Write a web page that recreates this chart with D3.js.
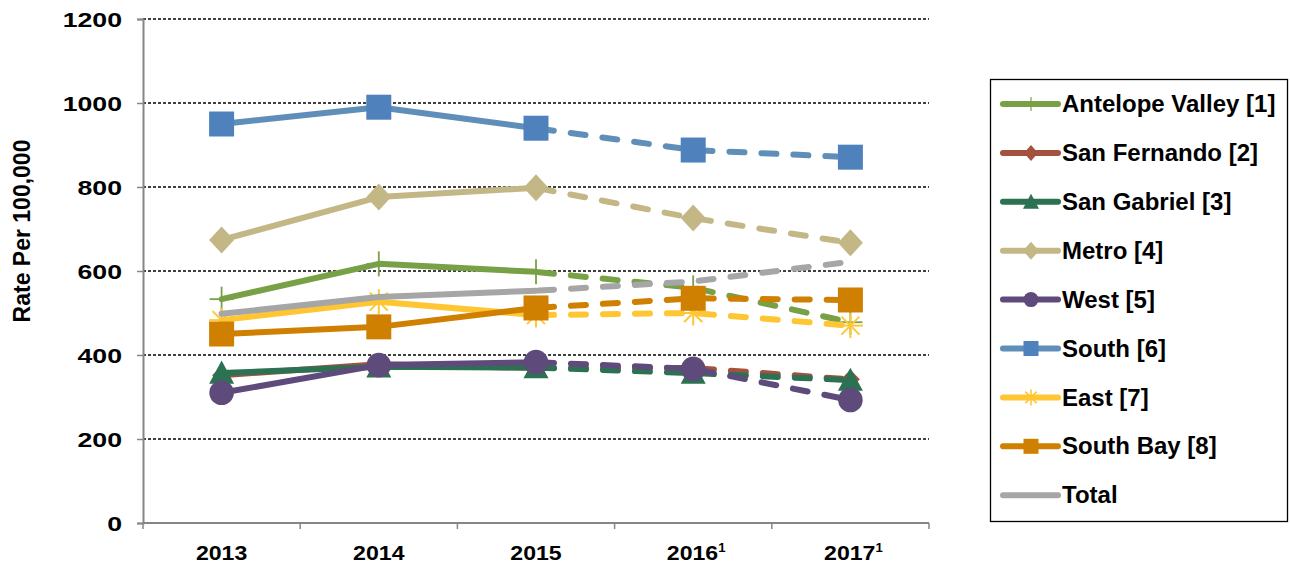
<!DOCTYPE html>
<html>
<head>
<meta charset="utf-8">
<script src="https://cdn.jsdelivr.net/npm/d3@7"></script>
<style>
  html, body { margin: 0; padding: 0; background: #fff; }
  svg { display: block; font-family: "Liberation Sans", Arial, sans-serif; }
</style>
</head>
<body>
<svg id="chart" width="1290" height="567"></svg>
<script>
// Rates per 100,000 by service planning area, 2013-2017
const years = ["2013", "2014", "2015", "2016", "2017"];
const yearSup = ["", "", "", "1", "1"];
const yTicks = [0, 200, 400, 600, 800, 1000, 1200];

const antelopeValley = [533, 617, 598, 560, 478];
const sanFernando   = [352, 378, 369, 369, 342];
const sanGabriel    = [357, 372, 370, 357, 340];
const metro         = [674, 776, 798, 726, 667];
const west          = [310, 376, 383, 367, 293];
const south         = [950, 990, 940, 888, 871];
const east          = [483, 527, 495, 500, 470];
const southBay      = [450, 467, 512, 535, 531];
const total         = [498, 538, 553, 575, 622];

const seriesNames = ["Antelope Valley [1]", "San Fernando [2]", "San Gabriel [3]", "Metro [4]",
                     "West [5]", "South [6]", "East [7]", "South Bay [8]", "Total"];
const seriesValues = [antelopeValley, sanFernando, sanGabriel, metro, west, south, east, southBay, total];
const lineColors = ["#77A047", "#A4513F", "#2B7152", "#C4B786", "#5E4A7B", "#5F8FB9", "#FFC634", "#D08000", "#A6A6A6"];
const markerColors = ["#77A047", "#A4513F", "#2B7152", "#C4B786", "#5E4A7B", "#4F81BD", "#FFC634", "#D08000", "#A6A6A6"];
const markerTypes = ["plus", "diamondSmall", "triangle", "diamond", "circle", "square", "star", "square", "none"];

const svg = d3.select("#chart");
const plotLeft = 143, plotRight = 929, plotTop = 19, plotBottom = 523;

const x = d3.scaleBand().domain(years).range([plotLeft, plotRight]);
const y = d3.scaleLinear().domain([0, 1200]).range([plotBottom, plotTop]);
const cx = d => x(d) + x.bandwidth() / 2;

// dashed gridlines
svg.append("g").selectAll("line").data(yTicks.filter(t => t > 0)).join("line")
  .attr("x1", plotLeft).attr("x2", plotRight)
  .attr("y1", d => y(d)).attr("y2", d => y(d))
  .attr("stroke", "#000").attr("stroke-width", 1.3).attr("stroke-dasharray", "3,2");

// y axis: line and ticks from d3.axisLeft, labels drawn wide like the source font
const yAxis = d3.axisLeft(y).tickValues(yTicks).tickSize(6).tickFormat(() => "");
const gy = svg.append("g").attr("transform", `translate(${plotLeft},0)`).call(yAxis);
gy.select(".domain").attr("stroke", "#868686").attr("stroke-width", 2);
gy.selectAll(".tick line").attr("stroke", "#868686").attr("stroke-width", 1.5);
svg.append("g").selectAll("text").data(yTicks).join("text")
  .attr("transform", d => `translate(122,${y(d) + 7.6}) scale(1.27,1)`)
  .attr("text-anchor", "end").attr("font-size", 21).attr("font-weight", "bold").attr("fill", "#000")
  .text(d => d3.format("d")(d));

// x axis line with boundary ticks
svg.append("line").attr("x1", plotLeft).attr("x2", plotRight).attr("y1", plotBottom).attr("y2", plotBottom)
  .attr("stroke", "#868686").attr("stroke-width", 2);
const bounds = years.map(d => x(d)).concat([plotRight]);
svg.append("g").selectAll("line").data(bounds).join("line")
  .attr("x1", d => d).attr("x2", d => d).attr("y1", plotBottom).attr("y2", plotBottom + 6)
  .attr("stroke", "#868686").attr("stroke-width", 1.5);

const xl = svg.append("g").selectAll("text").data(years).join("text")
  .attr("transform", (d, i) => `translate(${cx(d) + (yearSup[i] ? 3 : 0)},560) scale(1.1,1)`)
  .attr("text-anchor", "middle").attr("font-size", 21).attr("font-weight", "bold").attr("fill", "#000");
xl.append("tspan").text(d => d);
xl.append("tspan").text((d, i) => yearSup[i]).attr("font-size", 12).attr("dy", -8);

// y axis title
svg.append("text").attr("transform", "translate(30,231) rotate(-90)")
  .attr("text-anchor", "middle").attr("font-size", 23).attr("font-weight", "bold").attr("fill", "#000")
  .text("Rate Per 100,000");

// marker drawing
function drawMarker(g, type, color, px, py) {
  switch (type) {
    case "square": {
      const h = 12.5;
      g.append("rect").attr("x", px - h).attr("y", py - h).attr("width", 2 * h).attr("height", 2 * h)
        .attr("fill", color);
      break;
    }
    case "diamond": {
      const w = 12.5, h = 13.5;
      g.append("path").attr("d", `M${px},${py - h}L${px + w},${py}L${px},${py + h}L${px - w},${py}Z`).attr("fill", color);
      break;
    }
    case "diamondSmall": {
      const h = 9.5;
      g.append("path").attr("d", `M${px},${py - h}L${px + h},${py}L${px},${py + h}L${px - h},${py}Z`).attr("fill", color);
      break;
    }
    case "triangle": {
      const h = 12.5;
      g.append("path").attr("d", `M${px},${py - h}L${px + h},${py + h * 0.85}L${px - h},${py + h * 0.85}Z`).attr("fill", color);
      break;
    }
    case "circle":
      g.append("circle").attr("cx", px).attr("cy", py).attr("r", 12.3).attr("fill", color);
      break;
    case "plus":
      g.append("line").attr("x1", px).attr("x2", px).attr("y1", py - 12.5).attr("y2", py + 12.5)
        .attr("stroke", color).attr("stroke-width", 1.8);
      g.append("line").attr("x1", px - 12).attr("x2", px + 12).attr("y1", py).attr("y2", py)
        .attr("stroke", color).attr("stroke-width", 1.8);
      break;
    case "star": {
      const r = 12.5;
      [[0, 1], [1, 0], [0.72, 0.72], [0.72, -0.72]].forEach(([a, b]) => {
        g.append("line").attr("x1", px - a * r).attr("x2", px + a * r).attr("y1", py - b * r).attr("y2", py + b * r)
          .attr("stroke", color).attr("stroke-width", 2);
      });
      break;
    }
  }
}

// series lines: solid for 2013-2015, dashed for 2015-2017
const line = d3.line().x(d => cx(d.year)).y(d => y(d.value));
seriesValues.forEach((vals, i) => {
  const pts = vals.map((v, j) => ({ year: years[j], value: v }));
  const g = svg.append("g");
  g.append("path").attr("d", line(pts.slice(0, 3))).attr("fill", "none")
    .attr("stroke", lineColors[i]).attr("stroke-width", 6).attr("stroke-linecap", "round").attr("stroke-linejoin", "round");
  g.append("path").attr("d", line(pts.slice(2))).attr("fill", "none")
    .attr("stroke", lineColors[i]).attr("stroke-width", 6).attr("stroke-linecap", "round")
    .attr("stroke-dasharray", "15,17").attr("stroke-dashoffset", -3);
  pts.forEach(p => drawMarker(g, markerTypes[i], markerColors[i], cx(p.year), y(p.value)));
});

// legend
const lg = svg.append("g");
lg.append("rect").attr("x", 990.5).attr("y", 79.5).attr("width", 297).attr("height", 442)
  .attr("fill", "#fff").attr("stroke", "#000").attr("stroke-width", 1.3);
seriesNames.forEach((name, i) => {
  const ly = 104 + i * 48.9;
  const mx = 1031;
  const c = markerColors[i];
  const g = lg.append("g");
  g.append("line").attr("x1", 1003).attr("x2", 1058).attr("y1", ly).attr("y2", ly)
    .attr("stroke", lineColors[i]).attr("stroke-width", 6).attr("stroke-linecap", "round");
  const mt = markerTypes[i];
  if (mt === "square") {
    g.append("rect").attr("x", mx - 7.5).attr("y", ly - 7.5).attr("width", 15).attr("height", 15).attr("fill", c);
  } else if (mt === "plus") {
    g.append("line").attr("x1", mx).attr("x2", mx).attr("y1", ly - 7).attr("y2", ly + 7)
      .attr("stroke", c).attr("stroke-width", 1.2);
  } else if (mt === "diamond") {
    g.append("path").attr("d", `M${mx},${ly - 9}L${mx + 8},${ly}L${mx},${ly + 9}L${mx - 8},${ly}Z`).attr("fill", c);
  } else if (mt === "diamondSmall") {
    g.append("path").attr("d", `M${mx},${ly - 8}L${mx + 7},${ly}L${mx},${ly + 8}L${mx - 7},${ly}Z`).attr("fill", c);
  } else if (mt === "circle") {
    g.append("circle").attr("cx", mx).attr("cy", ly).attr("r", 7.5).attr("fill", c);
  } else if (mt === "triangle") {
    g.append("path").attr("d", `M${mx},${ly - 8}L${mx + 8},${ly + 7}L${mx - 8},${ly + 7}Z`).attr("fill", c);
  } else if (mt === "star") {
    [[0, 1], [0.72, 0.72], [0.72, -0.72]].forEach(([a, b]) => {
      g.append("line").attr("x1", mx - a * 8).attr("x2", mx + a * 8).attr("y1", ly - b * 8).attr("y2", ly + b * 8)
        .attr("stroke", c).attr("stroke-width", 1.6);
    });
  }
  g.append("text").attr("x", 1062).attr("y", ly).attr("dy", "0.34em")
    .attr("font-size", 24).attr("font-weight", "bold").attr("fill", "#000").text(name);
});
</script>
</body>
</html>
